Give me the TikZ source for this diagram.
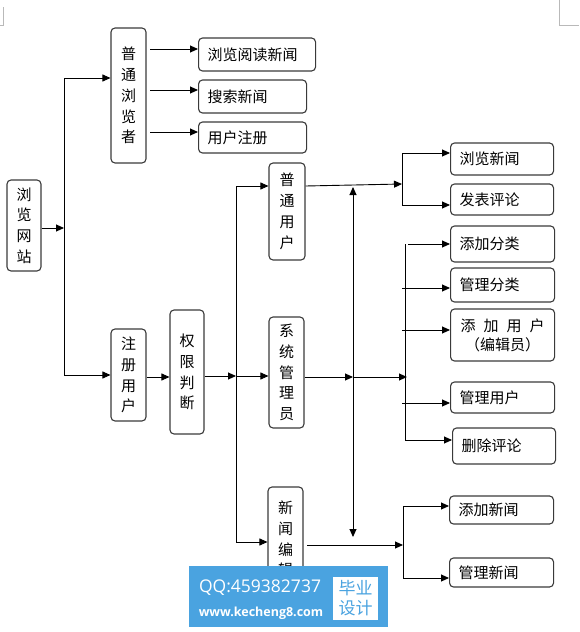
\documentclass[tikz,border=0pt]{standalone}
\usepackage{fontspec}
\newfontfamily\cjk{Noto Sans CJK SC}
\newfontfamily\wmfont{Open Sans}
\usetikzlibrary{arrows.meta}
\definecolor{edgec}{HTML}{3A3A3A}
\definecolor{wmblue}{HTML}{4AA3E0}
\begin{document}
\begin{tikzpicture}[x=1pt,y=-1pt,
  every node/.style={font=\cjk\fontsize{15}{20.8}\selectfont},
  box/.style={draw=edgec, line width=1.1pt, rounded corners=4pt, inner sep=0pt},
  vbox/.style={box, align=center},
  hbox/.style={box, anchor=west, align=left, inner xsep=9pt, inner ysep=0pt},
  link/.style={line width=0.9pt},
  arr/.style={link, -{Triangle[length=8pt,width=7pt]}},
  darr/.style={link, {Triangle[length=8pt,width=7pt]}-{Triangle[length=8pt,width=7pt]}},
  cornermark/.style={draw=gray!55, line width=0.6pt}
]
\useasboundingbox (0,0) rectangle (579,632);
% corner marks
\draw[cornermark] (3,7) -- (3,25) -- (0,25);
\draw[cornermark] (559,0) -- (559,25) -- (579,25);

% vertical boxes
\node[vbox, minimum width=34pt, minimum height=91pt] (site) at (24,225.5) {浏\\览\\网\\站};
\node[vbox, minimum width=35pt, minimum height=135pt] (visitor) at (128.5,95.5) {普\\通\\浏\\览\\者};
\node[vbox, minimum width=35pt, minimum height=92pt] (reg) at (128.5,375) {注\\册\\用\\户};
\node[vbox, minimum width=34pt, minimum height=124pt] (perm) at (187,372) {权\\限\\判\\断};
\node[vbox, minimum width=36pt, minimum height=97pt] (user) at (287,211.5) {普\\通\\用\\户};
\node[vbox, minimum width=35pt, minimum height=111pt] (admin) at (286.5,372.5) {系\\统\\管\\理\\员};
\node[vbox, minimum width=35pt, minimum height=104pt] (editor) at (285.5,539) {新\\闻\\编\\辑};

% horizontal boxes
\node[hbox, text width=99pt, minimum height=33pt] (v1) at (198,54.5) {浏览阅读新闻};
\node[hbox, text width=90pt, minimum height=33pt] (v2) at (198,96.5) {搜索新闻};
\node[hbox, text width=90pt, minimum height=31pt] (v3) at (198,137.5) {用户注册};
\node[hbox, text width=85pt, minimum height=32pt] (u1) at (450,159) {浏览新闻};
\node[hbox, text width=85pt, minimum height=31pt] (u2) at (450,199.5) {发表评论};
\node[hbox, text width=86pt, minimum height=36pt] (a1) at (450,244) {添加分类};
\node[hbox, text width=86pt, minimum height=34pt] (a2) at (450,285) {管理分类};
\node[box, anchor=west, align=center, text width=104pt, minimum height=52pt,
      font=\cjk\fontsize{15}{19}\selectfont] (a3) at (450,335)
      {添\hspace{8pt}加\hspace{8pt}用\hspace{8pt}户\\（编辑员）};
\node[hbox, text width=86pt, minimum height=31pt] (a4) at (450,397.5) {管理用户};
\node[hbox, text width=85pt, minimum height=36pt] (a5) at (452,446) {删除评论};
\node[hbox, text width=86pt, minimum height=28pt] (e1) at (449,510) {添加新闻};
\node[hbox, text width=86pt, minimum height=29pt] (e2) at (449,572.5) {管理新闻};

% site -> branches
\coordinate (j0) at (64,228);
\coordinate (jt) at (64,78);
\coordinate (jb) at (64,375);
\draw[arr] (site.east |- j0) -- (j0);
\draw[link] (jt) -- (jb);
\draw[arr] (jt) -- (jt -| visitor.west);
\draw[arr] (jb) -- (jb -| reg.west);

% visitor -> leaves
\coordinate (o1) at (150,49);
\coordinate (o2) at (150,90);
\coordinate (o3) at (150,132);
\draw[arr] (o1) -- (o1 -| v1.west);
\draw[arr] (o2) -- (o2 -| v2.west);
\draw[arr] (o3) -- (o3 -| v3.west);

% reg -> perm -> roles
\coordinate (r0) at (146,377);
\draw[arr] (reg.east |- r0) -- (perm.west |- r0);
\coordinate (k) at (236,376);
\coordinate (kt) at (236,186);
\coordinate (kb) at (236,542);
\draw[arr] (perm.east |- k) -- (k);
\draw[link] (kt) -- (kb);
\draw[arr] (kt) -- (kt -| user.west);
\draw[arr] (k) -- (k -| admin.west);
\draw[arr] (kb) -- (kb -| editor.west);

% user -> functions
\coordinate (m) at (402,184);
\coordinate (mt) at (402,153);
\coordinate (mb) at (402,205);
\draw[arr] (user.east |- kt) -- (m);
\draw[link] (mt) -- (mb);
\draw[arr] (mt) -- (mt -| u1.west);
\draw[arr] (mb) -- (mb -| u2.west);

% admin -> functions
\coordinate (p) at (353,377);
\coordinate (q) at (407,377);
\draw[arr] (admin.east |- p) -- (p);
\draw[arr] (p) -- (q);
\coordinate (nt) at (405,244);
\coordinate (nb) at (405,440);
\draw[link] (nt) -- (nb);
\coordinate (n1) at (408,244);
\coordinate (n2) at (402,288);
\coordinate (n3) at (402,330);
\coordinate (n4) at (402,403);
\draw[arr] (n1) -- (n1 -| a1.west);
\draw[arr] (n2) -- (n2 -| a2.west);
\draw[arr] (n3) -- (n3 -| a3.west);
\draw[arr] (n4) -- (n4 -| a4.west);
\draw[arr] (nb) -- (nb -| a5.west);

% double arrow
\coordinate (dt) at (353,187);
\coordinate (db) at (353,537);
\draw[darr] (dt) -- (db);

% editor -> functions
\coordinate (e) at (403,545);
\coordinate (es) at (307,545);
\coordinate (et) at (403,506);
\coordinate (eb) at (403,578);
\draw[arr] (es) -- (e);
\draw[link] (et) -- (eb);
\draw[arr] (et) -- (et -| e1.west);
\draw[arr] (eb) -- (eb -| e2.west);

% watermark
\fill[wmblue] (189,566) rectangle (388,627);
\fill[white] (333,577) rectangle (378,620);
\node[font=\wmfont\fontsize{17.5}{17.5}\selectfont, text=white, inner sep=0pt] (wmqq) at (260,588) {QQ:459382737};
\node[font=\wmfont\bfseries\fontsize{12.5}{12.5}\selectfont, text=white, inner sep=0pt] (wmurl) at (261,613) {www.kecheng8.com};
\node[font=\cjk\fontsize{17}{20}\selectfont, text=wmblue, align=center, inner sep=0pt] (wmcn) at (355.5,598.5) {毕业\\设计};
\end{tikzpicture}
\end{document}
